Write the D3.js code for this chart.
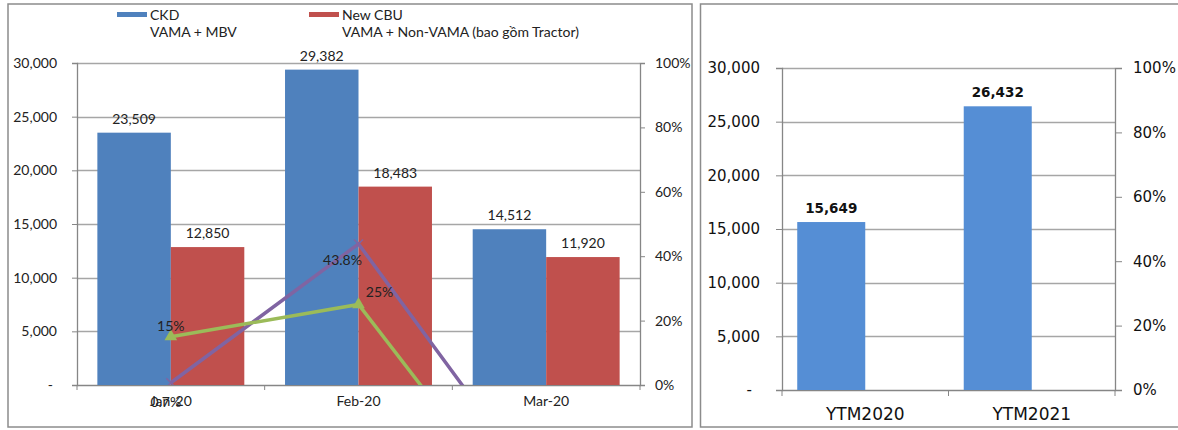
<!DOCTYPE html>
<html>
<head>
<meta charset="utf-8">
<script src="https://cdn.jsdelivr.net/npm/d3@7"></script>
<style>
  body { margin: 0; background: #fff; }
  svg { display: block; }
  .lf { font-family: Lato, "Liberation Sans", sans-serif; font-size: 14px; fill: #222; }
  .rf { font-family: "DejaVu Sans", Verdana, sans-serif; fill: #111; }
</style>
</head>
<body>
<div id="chart"></div>
<script>
// left chart data
var months = ["Jan-20", "Feb-20", "Mar-20"]
var ckd = [23509, 29382, 14512]
var cbu = [12850, 18483, 11920]
var ckdGrowth = [15, 25, -50.6]     // green line, %
var cbuGrowth = [0.7, 43.8, -35.5]  // purple line, %
var leftTicks = [0, 5000, 10000, 15000, 20000, 25000, 30000]
var pctTicks = [0, 20, 40, 60, 80, 100]
var legendNames = ["CKD", "New CBU"]
var legendSubs = ["VAMA + MBV", "VAMA + Non-VAMA (bao gồm Tractor)"]

// right chart data
var ytmCats = ["YTM2020", "YTM2021"]
var ytmValues = [15649, 26432]

// label nudges for the growth labels (layout only)
var greenLabelOff = [[0, -11], [21, -13]]
var purpleLabelOff = [[-5, 19], [-16, 16]]

var blue = "#4F81BD", red = "#C0504D", green = "#9BBB59", purple = "#8064A2"
var gridCol = "#A6A6A6", axisCol = "#868686"

var svg = d3.select("#chart").append("svg").attr("width", 1178).attr("height", 430)

// panel frames
svg.append("rect").attr("x", 8).attr("y", 4).attr("width", 684).attr("height", 423)
  .attr("fill", "none").attr("stroke", "#8c8c8c").attr("stroke-width", 1.5)
svg.append("rect").attr("x", 700.5).attr("y", 4).attr("width", 485).attr("height", 423)
  .attr("fill", "none").attr("stroke", "#8c8c8c").attr("stroke-width", 1.5)

/* ---------- left chart ---------- */
var L = { left: 77, right: 640, top: 63, bottom: 385 }
var x0 = d3.scaleBand().domain(months).range([L.left, L.right]).paddingInner(0.217).paddingOuter(0.1085)
var x1 = d3.scaleBand().domain(["ckd", "cbu"]).range([0, x0.bandwidth()])
var y = d3.scaleLinear().domain([0, 30000]).range([L.bottom, L.top])
var yP = d3.scaleLinear().domain([0, 100]).range([L.bottom, L.top])

var gL = svg.append("g").attr("class", "left")

gL.append("g").selectAll("line").data(leftTicks.slice(1)).enter().append("line")
  .attr("x1", L.left).attr("x2", L.right)
  .attr("y1", function(d) { return Math.round(y(d)) + 0.5 }).attr("y2", function(d) { return Math.round(y(d)) + 0.5 })
  .attr("stroke", gridCol).attr("stroke-width", 1.3)

var yAxisL = gL.append("g").attr("transform", "translate(" + L.left + ",0)")
  .call(d3.axisLeft(y).tickValues(leftTicks).tickSize(5).tickPadding(15)
    .tickFormat(function(d) { return d === 0 ? "-" : d3.format(",")(d) }))
var yAxisLR = gL.append("g").attr("transform", "translate(" + L.right + ",0)")
  .call(d3.axisRight(yP).tickValues(pctTicks).tickSize(5).tickPadding(10)
    .tickFormat(function(d) { return d + "%" }))
var xAxisL = gL.append("g").attr("transform", "translate(0," + L.bottom + ")")
  .call(d3.axisBottom(x0).tickSize(0).tickPadding(11))

// category boundary ticks
var bounds = [L.left].concat(months.map(function(m) { return x0(m) + x0.bandwidth() + x0.step() * 0.1085 }))
gL.append("g").selectAll("line").data(bounds).enter().append("line")
  .attr("x1", function(d) { return d }).attr("x2", function(d) { return d })
  .attr("y1", L.bottom).attr("y2", L.bottom + 5).attr("stroke", axisCol)

;[yAxisL, yAxisLR, xAxisL].forEach(function(a) {
  a.selectAll(".domain").attr("stroke", axisCol).attr("stroke-width", 1.3)
  a.selectAll(".tick line").attr("stroke", axisCol)
  a.selectAll("text").attr("class", "lf").attr("font-size", null).attr("font-family", null).attr("fill", null)
})
yAxisL.selectAll(".tick").filter(function(d) { return d === 0 }).select("text").attr("dx", -4)

// bars
var barData = months.map(function(m, i) { return { m: m, v: [{ k: "ckd", v: ckd[i] }, { k: "cbu", v: cbu[i] }] } })
var grp = gL.append("g").selectAll("g").data(barData).enter().append("g")
  .attr("transform", function(d) { return "translate(" + x0(d.m) + ",0)" })
grp.selectAll("rect").data(function(d) { return d.v }).enter().append("rect")
  .attr("x", function(d) { return x1(d.k) }).attr("width", x1.bandwidth())
  .attr("y", function(d) { return y(d.v) }).attr("height", function(d) { return L.bottom - y(d.v) })
  .attr("fill", function(d) { return d.k === "ckd" ? blue : red })
grp.selectAll("text").data(function(d) { return d.v }).enter().append("text").attr("class", "lf")
  .attr("x", function(d) { return x1(d.k) + x1.bandwidth() / 2 }).attr("y", function(d) { return y(d.v) - 9 })
  .attr("text-anchor", "middle").text(function(d) { return d3.format(",")(d.v) })

// growth lines, clipped to the plot area
svg.append("defs").append("clipPath").attr("id", "plotclip").append("rect")
  .attr("x", L.left).attr("y", L.top - 10).attr("width", L.right - L.left).attr("height", L.bottom - L.top + 10)
var cx = function(i) { return x0(months[i]) + x0.bandwidth() / 2 }
var line = d3.line().x(function(d, i) { return cx(i) }).y(function(d) { return yP(d) })
var gLines = gL.append("g").attr("clip-path", "url(#plotclip)")
gLines.append("path").datum(cbuGrowth).attr("d", line).attr("fill", "none").attr("stroke", purple).attr("stroke-width", 3.5)
gLines.append("path").datum(ckdGrowth).attr("d", line).attr("fill", "none").attr("stroke", green).attr("stroke-width", 3.5)

gLines.selectAll(".xm").data(cbuGrowth).enter().append("path").attr("class", "xm")
  .attr("d", d3.symbol().type(d3.symbolX).size(55))
  .attr("transform", function(d, i) { return "translate(" + cx(i) + "," + yP(d) + ")" })
  .attr("fill", "none").attr("stroke", purple).attr("stroke-width", 1.5)
gLines.selectAll(".tm").data(ckdGrowth).enter().append("path").attr("class", "tm")
  .attr("d", d3.symbol().type(d3.symbolTriangle).size(70))
  .attr("transform", function(d, i) { return "translate(" + cx(i) + "," + yP(d) + ")" })
  .attr("fill", green)

// growth labels (only points inside the axis range get a label)
function pctLabels(vals, offs) {
  gL.append("g").selectAll("text").data(vals.filter(function(d) { return d >= 0 && d <= 100 })).enter().append("text")
    .attr("class", "lf").attr("text-anchor", "middle")
    .attr("x", function(d, i) { return cx(i) + offs[i][0] })
    .attr("y", function(d, i) { return yP(d) + offs[i][1] + 5 })
    .text(function(d) { return d + "%" })
}
pctLabels(ckdGrowth, greenLabelOff)
pctLabels(cbuGrowth, purpleLabelOff)

// legend
var lg = gL.append("g").selectAll("g").data(legendNames).enter().append("g")
  .attr("transform", function(d, i) { return "translate(" + [117 + i * 192, 0] + ")" })
lg.append("rect").attr("x", 0).attr("y", 12).attr("width", 30).attr("height", 5)
  .attr("fill", function(d, i) { return i === 0 ? blue : red })
lg.append("text").attr("class", "lf").attr("x", 33).attr("y", 20).text(function(d) { return d })
lg.append("text").attr("class", "lf").attr("x", 33).attr("y", 37).text(function(d, i) { return legendSubs[i] })

/* ---------- right chart ---------- */
var R = { left: 782, right: 1115, top: 68, bottom: 390 }
// two-series cluster, second series slot empty -> bar sits in left half of each band
var xb = d3.scaleBand().domain(ytmCats).range([R.left, R.right]).paddingInner(0.183).paddingOuter(0.0915)
var yb = d3.scaleLinear().domain([0, 30000]).range([R.bottom, R.top])
var ybP = d3.scaleLinear().domain([0, 100]).range([R.bottom, R.top])
var gR = svg.append("g").attr("class", "right")

gR.append("g").selectAll("line").data(leftTicks.slice(1)).enter().append("line")
  .attr("x1", R.left).attr("x2", R.right)
  .attr("y1", function(d) { return Math.round(yb(d)) + 0.5 }).attr("y2", function(d) { return Math.round(yb(d)) + 0.5 })
  .attr("stroke", gridCol).attr("stroke-width", 1.3)

var yAxisR = gR.append("g").attr("transform", "translate(" + R.left + ",0)")
  .call(d3.axisLeft(yb).tickValues(leftTicks).tickSize(6).tickPadding(16)
    .tickFormat(function(d) { return d === 0 ? "-" : d3.format(",")(d) }))
var yAxisRR = gR.append("g").attr("transform", "translate(" + R.right + ",0)")
  .call(d3.axisRight(ybP).tickValues(pctTicks).tickSize(7).tickPadding(11)
    .tickFormat(function(d) { return d + "%" }))
var xAxisR = gR.append("g").attr("transform", "translate(0," + R.bottom + ")")
  .call(d3.axisBottom(xb).tickSize(0).tickPadding(18))
var rb = [R.left, (R.left + R.right) / 2, R.right]
gR.append("g").selectAll("line").data(rb).enter().append("line")
  .attr("x1", function(d) { return d }).attr("x2", function(d) { return d })
  .attr("y1", R.bottom).attr("y2", R.bottom + 6).attr("stroke", axisCol)

;[yAxisR, yAxisRR, xAxisR].forEach(function(a) {
  a.selectAll(".domain").attr("stroke", axisCol).attr("stroke-width", 1.3)
  a.selectAll(".tick line").attr("stroke", axisCol)
  a.selectAll("text").attr("class", "rf").attr("font-family", null).attr("fill", null).attr("font-size", 15)
})
xAxisR.selectAll("text").attr("font-size", 17)
yAxisR.selectAll(".tick").filter(function(d) { return d === 0 }).select("text").attr("dx", -8)

gR.append("g").selectAll("rect").data(ytmValues).enter().append("rect")
  .attr("x", function(d, i) { return xb(ytmCats[i]) }).attr("width", xb.bandwidth() / 2)
  .attr("y", function(d) { return yb(d) }).attr("height", function(d) { return R.bottom - yb(d) })
  .attr("fill", "#558ED5")
gR.append("g").selectAll("text").data(ytmValues).enter().append("text").attr("class", "rf")
  .attr("font-size", 13.5).attr("font-weight", "bold").attr("text-anchor", "middle")
  .attr("x", function(d, i) { return xb(ytmCats[i]) + xb.bandwidth() / 4 })
  .attr("y", function(d) { return yb(d) - 9 })
  .text(function(d) { return d3.format(",")(d) })
</script>
</body>
</html>
